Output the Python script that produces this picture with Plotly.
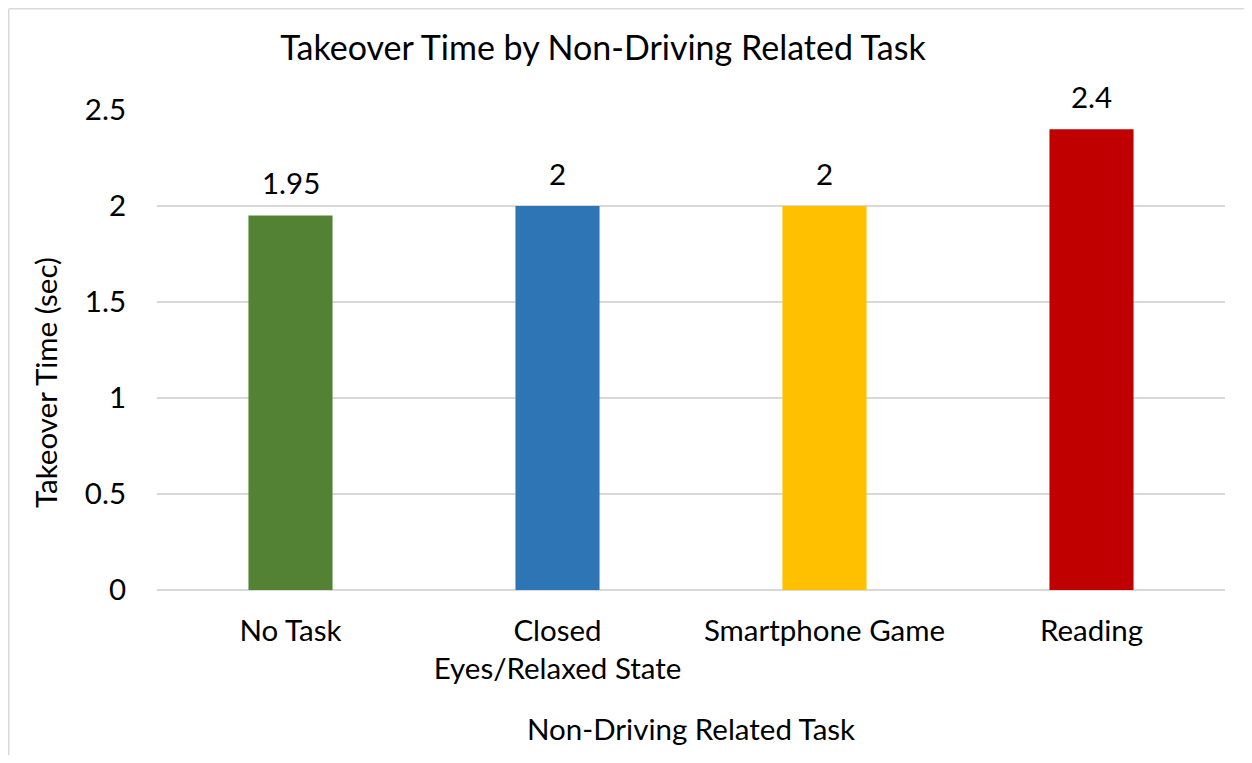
import plotly.graph_objects as go

# data
tasks = ["No Task", "Closed<br>Eyes/Relaxed State", "Smartphone Game", "Reading"]
takeover_sec = [1.95, 2, 2, 2.4]
bar_colors = ["#548235", "#2E75B6", "#FFC000", "#C00000"]
y_ticks = [0, 0.5, 1, 1.5, 2, 2.5]
y_tick_text = ["0", "0.5", "1", "1.5", "2", "2.5"]

FONT = "Lato, Carlito, Calibri, sans-serif"
TEXT = "#000000"
GRID = "#D9D9D9"
FS = 29.5

# the page body has an 8px margin, so the figure starts at (8, 8)
OFF = 8
W, H = 1252 - 2 * OFF, 763 - 2 * OFF
L, T = 157 - OFF, 110 - OFF
pw, ph = 1068, 480
R, B = W - L - pw, H - T - ph

fig = go.Figure()
fig.add_trace(go.Bar(
    x=tasks, y=takeover_sec,
    marker=dict(color=bar_colors, line=dict(width=0)),
    showlegend=False, hoverinfo="x+y",
))

# value labels sitting a little above each bar
value_labels = [
    dict(x=t, y=v, text=f"{v:g}", xref="x", yref="y", showarrow=False,
         yshift=33, yanchor="middle", font=dict(size=FS, color=TEXT))
    for t, v in zip(tasks, takeover_sec)
]

# chart-area frame: only the left and top edges fall inside the picture
left_x = (0.75 - L) / pw
top_y = 1 + (T - 0.75) / ph
frame = [
    dict(type="line", xref="paper", yref="paper", x0=left_x, x1=left_x,
         y0=-0.6, y1=top_y, line=dict(color=GRID, width=1.5), layer="below"),
    dict(type="line", xref="paper", yref="paper", x0=left_x, x1=1.3,
         y0=top_y, y1=top_y, line=dict(color=GRID, width=1.5), layer="below"),
]

fig.update_layout(
    width=W, height=H,
    margin=dict(l=L, r=R, t=T, b=B),
    paper_bgcolor="white", plot_bgcolor="white",
    font=dict(family=FONT, size=FS, color=TEXT),
    bargap=0.685,
    title=dict(text="Takeover Time by Non-Driving Related Task",
               x=(603 - OFF) / W, xref="container", xanchor="center",
               y=1 - (48 - OFF) / H, yref="container", yanchor="middle",
               font=dict(family=FONT, size=34, color=TEXT)),
    xaxis=dict(showgrid=False, showline=False, zeroline=False, ticks="",
               ticklabelstandoff=20, tickfont=dict(size=FS)),
    yaxis=dict(range=[0, 2.5], tickvals=y_ticks, ticktext=y_tick_text,
               showgrid=True, gridcolor=GRID, gridwidth=1.5,
               zeroline=True, zerolinecolor=GRID, zerolinewidth=1.5,
               showline=False, ticks="", ticklabelstandoff=30,
               tickfont=dict(size=FS)),
    annotations=value_labels + [
        dict(text="Non-Driving Related Task", xref="paper", yref="paper",
             x=0.5, y=(590 - 728) / ph, xanchor="center", yanchor="middle",
             showarrow=False, font=dict(size=FS)),
        dict(text="Takeover Time (sec)", xref="paper", yref="paper",
             x=(45 - 157) / pw, y=(590 - 383) / ph, textangle=-90,
             xanchor="center", yanchor="middle",
             showarrow=False, font=dict(size=FS)),
    ],
    shapes=frame,
)

fig.write_html("out.html")
